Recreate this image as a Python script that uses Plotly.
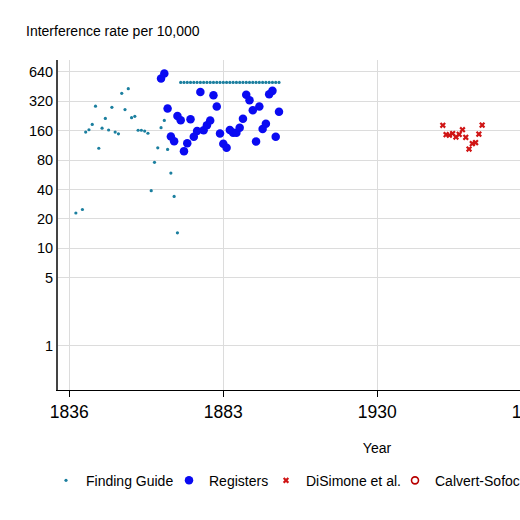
import plotly.graph_objects as go

# Finding Guide (small dots)
guide_years = [1838, 1840, 1841, 1842, 1843, 1844, 1845, 1846, 1847, 1848,
               1849, 1850, 1851, 1852, 1853, 1854, 1855, 1856, 1857, 1858,
               1859, 1860, 1861, 1862, 1863, 1864, 1865, 1866, 1867, 1868,
               1869,
               1870, 1871, 1872, 1873, 1874, 1875, 1876, 1877, 1878, 1879,
               1880, 1881, 1882, 1883, 1884, 1885, 1886, 1887, 1888, 1889,
               1890, 1891, 1892, 1893, 1894, 1895, 1896, 1897, 1898, 1899,
               1900]
guide_rates = [23, 25, 155, 164, 186, 286, 106, 170, 214, 163,
               278, 155, 149, 387, 264, 432, 218, 225, 162, 162,
               159, 151, 39, 76, 107, 172, 204, 103, 59, 34,
               14.4,
               500, 500, 500, 500, 500, 500, 500, 500, 500, 500,
               500, 500, 500, 500, 500, 500, 500, 500, 500, 500,
               500, 500, 500, 500, 500, 500, 500, 500, 500, 500,
               500]

# Registers (large dots)
register_years = [1864, 1865, 1866, 1867, 1868, 1869, 1870, 1871, 1872, 1873,
                  1874, 1875, 1876, 1877, 1878, 1879, 1880, 1881, 1882, 1883,
                  1884, 1885, 1886, 1887, 1888, 1889, 1890, 1891, 1892, 1893,
                  1894, 1895, 1896, 1897, 1898, 1899, 1900]
register_rates = [548, 616, 270, 140, 125, 227, 205, 99, 119, 210,
                  139, 159, 400, 162, 182, 204, 369, 283, 150, 118,
                  107, 163, 153, 153, 172, 213, 375, 328, 259, 124,
                  283, 167, 189, 378, 410, 139, 251]

# DiSimone et al. (crosses)
disimone_years = [1950, 1951, 1952, 1953, 1954, 1955, 1956, 1957, 1958, 1959,
                  1960, 1961, 1962]
disimone_rates = [182, 146, 144, 150, 138, 147, 164, 137, 104, 118,
                  121, 148, 183]

# Calvert-Sofocleous et al. (hollow circles) - points lie outside the visible part
calvert_years = [None]
calvert_rates = [None]

y_ticks = [1, 5, 10, 20, 40, 80, 160, 320, 640]
x_ticks = [1836, 1883, 1930, 1977, 2024]

font = "Liberation Sans, Arial, Helvetica, sans-serif"

fig = go.Figure()

fig.add_trace(go.Scatter(
    x=guide_years, y=guide_rates, mode="markers", name="Finding Guide",
    marker=dict(color="#1b7f9f", size=3.2), legend="legend",
))
fig.add_trace(go.Scatter(
    x=register_years, y=register_rates, mode="markers", name="Registers",
    marker=dict(color="#0a0af2", size=8.5), legend="legend2",
))
fig.add_trace(go.Scatter(
    x=disimone_years, y=disimone_rates, mode="markers", name="DiSimone et al.",
    marker=dict(color="#d01515", size=5.5, symbol="x"), legend="legend3",
))
fig.add_trace(go.Scatter(
    x=calvert_years, y=calvert_rates, mode="markers", name="Calvert-Sofocleous et al.",
    marker=dict(color="#b80000", size=7, symbol="circle-open",
                line=dict(color="#b80000", width=1.6)), legend="legend4",
))


def legend_at(px):
    # one legend box per entry, placed by pixel position of its left edge
    return dict(
        orientation="h", x=(px - 58) / 638, xanchor="left", y=-0.275,
        yanchor="middle", font=dict(size=14), bgcolor="rgba(0,0,0,0)",
    )


fig.update_layout(
    width=740, height=520,
    margin=dict(l=58, r=44, t=60, b=130),
    paper_bgcolor="white", plot_bgcolor="white",
    font=dict(family=font, size=14, color="black"),
    showlegend=True,
    legend=legend_at(46),
    legend2=legend_at(169),
    legend3=legend_at(266),
    legend4=legend_at(395),
    annotations=[dict(
        text="Interference rate per 10,000", xref="paper", yref="paper",
        x=-0.054, y=1.088, xanchor="left", yanchor="middle", showarrow=False,
        font=dict(size=14),
    )],
)

fig.update_xaxes(
    range=[1832.55, 2027.27], tickvals=x_ticks,
    showgrid=True, gridcolor="#dcdcdc", gridwidth=1,
    showline=True, linecolor="black", linewidth=1.2,
    ticks="outside", ticklen=6, tickcolor="black", tickwidth=1,
    tickfont=dict(size=17.5), zeroline=False,
    title=dict(text="Year", font=dict(size=14), standoff=22),
)
fig.update_yaxes(
    type="log", range=[-0.451, 2.929], tickvals=y_ticks,
    ticktext=[str(v) for v in y_ticks],
    showgrid=True, gridcolor="#dcdcdc", gridwidth=1,
    showline=True, linecolor="#444444", linewidth=2,
    ticks="", tickfont=dict(size=14.5), ticklabelstandoff=0, zeroline=False,
)

fig.write_html(
    "out.html",
    config={"displayModeBar": False},
    post_script="document.body.style.margin='0';document.body.style.overflow='hidden';",
)
